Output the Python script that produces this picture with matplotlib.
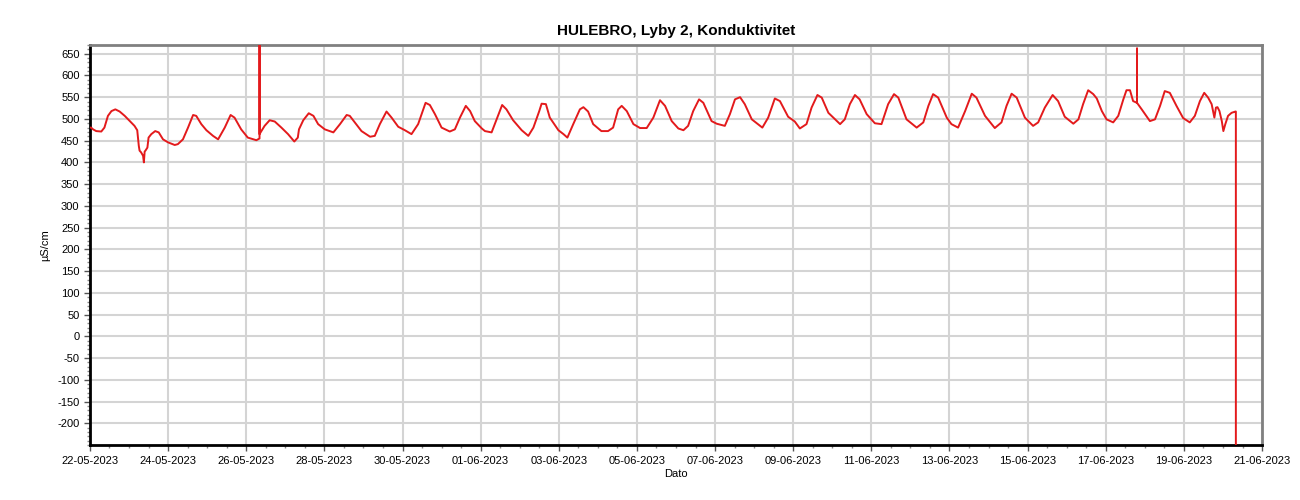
import numpy as np
import pandas as pd
import matplotlib
matplotlib.use('Agg')
import matplotlib.pyplot as plt
import matplotlib.dates as mdates
from matplotlib.ticker import MultipleLocator

plt.rcParams['font.family'] = ['Liberation Sans', 'DejaVu Sans']

start = pd.Timestamp('2023-05-22')
x_end = pd.Timestamp('2023-06-21')

# days after 22-05-2023 00:00, conductivity in uS/cm
day_offset = [
    0.00, 0.03, 0.08, 0.16, 0.29, 0.37, 0.46, 0.55, 0.65, 0.76, 0.89, 1.02,
    1.14, 1.21, 1.25, 1.27, 1.31, 1.36, 1.38, 1.40, 1.42, 1.47, 1.50, 1.57,
    1.67, 1.76, 1.87, 2.00, 2.17, 2.25, 2.38, 2.51, 2.64, 2.72, 2.85, 2.98,
    3.15, 3.28, 3.45, 3.60, 3.70, 3.87, 4.04, 4.26, 4.34, 4.34, 4.34, 4.47,
    4.60, 4.73, 4.90, 5.07, 5.23, 5.32, 5.35, 5.46, 5.60, 5.72, 5.84, 6.01,
    6.23, 6.40, 6.57, 6.65, 6.78, 6.95, 7.17, 7.29, 7.42, 7.59, 7.72, 7.89,
    8.06, 8.23, 8.40, 8.59, 8.70, 8.83, 9.00, 9.21, 9.34, 9.47, 9.62, 9.73,
    9.85, 10.03, 10.11, 10.28, 10.41, 10.55, 10.66, 10.83, 11.05, 11.22, 11.35, 11.50,
    11.56, 11.67, 11.77, 11.99, 12.12, 12.22, 12.37, 12.54, 12.63, 12.75, 12.88, 13.09,
    13.26, 13.39, 13.52, 13.61, 13.74, 13.91, 14.08, 14.25, 14.42, 14.59, 14.72, 14.89,
    15.06, 15.19, 15.31, 15.44, 15.59, 15.70, 15.91, 16.04, 16.25, 16.38, 16.51, 16.64,
    16.76, 16.94, 17.21, 17.36, 17.53, 17.66, 17.87, 18.04, 18.17, 18.34, 18.47, 18.62,
    18.73, 18.90, 19.20, 19.32, 19.45, 19.58, 19.70, 19.88, 20.09, 20.26, 20.43, 20.58,
    20.69, 20.90, 21.16, 21.33, 21.46, 21.58, 21.71, 21.93, 22.05, 22.22, 22.40, 22.57,
    22.69, 22.91, 23.16, 23.33, 23.46, 23.59, 23.72, 23.93, 24.14, 24.27, 24.44, 24.64,
    24.78, 24.95, 25.17, 25.30, 25.42, 25.55, 25.68, 25.77, 25.90, 26.02, 26.19, 26.32,
    26.45, 26.53, 26.62, 26.70, 26.80, 26.80, 26.80, 26.92, 27.13, 27.26, 27.39, 27.51,
    27.64, 27.81, 27.98, 28.15, 28.28, 28.41, 28.52, 28.62, 28.71, 28.78, 28.82, 28.86,
    28.91, 28.97, 29.01, 29.06, 29.13, 29.22, 29.32, 29.33, 29.33,
]
konduktivitet = [
    480, 480, 476, 472, 471, 480, 507, 518, 522, 517, 507, 495,
    484, 474, 438, 427, 423, 415, 400, 425, 427, 434, 457, 465,
    472, 469, 453, 446, 440, 442, 453, 480, 509, 507, 488, 474,
    461, 453, 480, 509, 503, 476, 457, 451, 455, 700, 465, 484,
    497, 494, 480, 465, 448, 457, 476, 497, 513, 507, 488, 476,
    469, 488, 509, 507, 492, 472, 459, 461, 488, 517, 503, 482,
    474, 465, 488, 537, 532, 511, 480, 471, 476, 503, 530, 518,
    495, 478, 472, 469, 499, 532, 522, 497, 474, 461, 480, 518,
    535, 534, 503, 474, 465, 457, 488, 522, 527, 517, 488, 472,
    472, 480, 522, 530, 518, 488, 479, 479, 503, 543, 530, 495,
    478, 474, 484, 518, 545, 537, 495, 489, 484, 511, 545, 550,
    534, 499, 480, 503, 547, 541, 505, 494, 478, 488, 526, 555,
    549, 514, 488, 499, 534, 555, 545, 511, 490, 488, 534, 557,
    549, 499, 480, 492, 530, 557, 549, 503, 488, 480, 518, 558,
    549, 507, 479, 492, 530, 558, 549, 503, 484, 492, 526, 555,
    541, 505, 489, 499, 534, 566, 557, 547, 518, 499, 492, 507,
    545, 566, 566, 541, 537, 662, 537, 522, 495, 499, 530, 564,
    560, 530, 502, 492, 507, 541, 560, 549, 534, 503, 526, 527,
    518, 495, 472, 488, 507, 514, 517, 517, -300,
]

t = start + pd.to_timedelta(day_offset, unit='D')

fig = plt.figure(figsize=(13, 5), dpi=100)
ax = fig.add_axes([0.0692, 0.11, 0.9016, 0.80])

ax.plot(t, konduktivitet, color='#e31a1c', lw=1.4, zorder=3,
        solid_joinstyle='round')

ax.set_xlim(start, x_end)
ax.set_ylim(-250, 670)

ax.xaxis.set_major_locator(mdates.DayLocator(interval=2))
ax.xaxis.set_major_formatter(mdates.DateFormatter('%d-%m-%Y'))
ax.xaxis.set_minor_locator(mdates.HourLocator(byhour=[0, 12]))
ax.yaxis.set_major_locator(MultipleLocator(50))
ax.yaxis.set_minor_locator(MultipleLocator(10))

ax.grid(True, which='major', color='#d4d4d4', lw=1.5, zorder=0)
ax.set_axisbelow(True)

for s in ['left', 'bottom']:
    ax.spines[s].set_color('black')
    ax.spines[s].set_linewidth(2)
for s in ['top', 'right']:
    ax.spines[s].set_color('#808080')
    ax.spines[s].set_linewidth(2)

ax.tick_params(axis='both', which='major', labelsize=8, length=4, width=1,
               colors='#555555', labelcolor='black')
ax.tick_params(axis='both', which='minor', length=2, width=1, colors='#888888')
ax.tick_params(axis='x', pad=4)

yt = np.arange(-200, 651, 50)
ax.set_yticks(yt)
ax.set_yticklabels([str(v) for v in yt])

ax.set_title('HULEBRO, Lyby 2, Konduktivitet', fontsize=11, fontweight='bold', pad=7)
ax.set_xlabel('Dato', fontsize=8, labelpad=2)
ax.set_ylabel('µS/cm', fontsize=8, labelpad=5)

plt.savefig('out.png', dpi=100)
plt.close()
